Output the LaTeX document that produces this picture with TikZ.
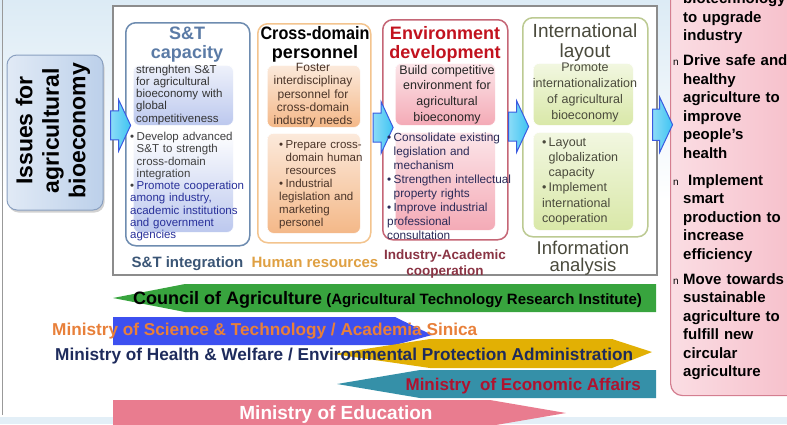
\documentclass[tikz,border=0pt]{standalone}
\usepackage{fontspec}
\setmainfont{Liberation Sans}
\usetikzlibrary{shapes.arrows,shadows,calc}

\definecolor{bgblue}{HTML}{DCEBF5}
\definecolor{framegrey}{HTML}{8C8C8C}
\definecolor{issueline}{HTML}{8AA0C0}
\definecolor{issuefill}{HTML}{BCD0EA}
\definecolor{arrowblue}{HTML}{3A5BE0}
\definecolor{arrowcyan}{HTML}{3EC4F2}
\definecolor{stline}{HTML}{6E8CB0}
\definecolor{sttext}{HTML}{5B7BA6}
\definecolor{stfill}{HTML}{BCC8EE}
\definecolor{stpurple}{HTML}{28309A}
\definecolor{stlabel}{HTML}{3B5676}
\definecolor{hrline}{HTML}{F3C48E}
\definecolor{hrfill}{HTML}{F4B888}
\definecolor{hrtext}{HTML}{4A3428}
\definecolor{hrlabel}{HTML}{DFA042}
\definecolor{envline}{HTML}{C56676}
\definecolor{envtext}{HTML}{C2121E}
\definecolor{envfill}{HTML}{F4AAB6}
\definecolor{envnavy}{HTML}{2A2A58}
\definecolor{ialabel}{HTML}{8A3444}
\definecolor{intline}{HTML}{BCCA92}
\definecolor{intfill}{HTML}{D9E8A8}
\definecolor{inttext}{HTML}{4A4A3C}
\definecolor{goalfill}{HTML}{F6BCC8}
\definecolor{goalline}{HTML}{D47E90}
\definecolor{coagreen}{HTML}{38A43E}
\definecolor{mostblue}{HTML}{3D50F0}
\definecolor{mostorange}{HTML}{E8803A}
\definecolor{mohwgold}{HTML}{E2B004}
\definecolor{mohwnavy}{HTML}{1E2B5C}
\definecolor{moeateal}{HTML}{3590A8}
\definecolor{moeared}{HTML}{B0122E}
\definecolor{moepink}{HTML}{E97C8F}

\newcommand{\fs}[2]{\fontsize{#1}{#2}\selectfont}
\newlength{\bulw}
\setlength{\bulw}{6.5pt}
% first bullet of a list, and the ones after it
\newcommand{\bfirst}{\hangindent=\bulw\hangafter=1\leavevmode\makebox[\bulw][l]{\textbullet}}
\newcommand{\bitem}{\par\bfirst}
\newcommand{\goalmark}{\leavevmode\llap{{\mdseries\fs{10}{10}n}\hspace{4.5pt}}}

\begin{document}
\begin{tikzpicture}[x=1pt,y=-1pt,
  colbox/.style={draw,rounded corners=10pt,line width=1.5pt,fill=white,anchor=north west,inner sep=0pt},
  padbox/.style={rounded corners=6pt,anchor=north west,inner sep=0pt,draw=white,line width=0.6pt},
  ttl/.style={font=\bfseries\fs{18}{19},align=center,text width=130pt,inner sep=0pt,anchor=base},
  lnote/.style={align=left,inner sep=0pt,anchor=base west,text width=#1},
  cnote/.style={align=center,inner sep=0pt,anchor=base,text width=#1},
  flowarrow/.style={single arrow,draw=arrowblue,line width=1pt,left color=arrowcyan!60,right color=arrowcyan,
    minimum height=20pt,minimum width=50pt,single arrow head extend=11pt,single arrow tip angle=130,
    inner xsep=0pt,inner ysep=14pt},
  ribbontxt/.style={font=\bfseries\fs{17.2}{18},inner sep=0pt,anchor=base west}]
\clip (0,0) rectangle (787,424);

% backdrop
\fill[top color=bgblue,bottom color=white] (0,0) rectangle (787,200);
\fill[bgblue!80] (0,417) rectangle (787,424);
\draw[black!40,line width=0.8pt] (2,0) -- (2,415);

% frame round the four columns
\node[draw=framegrey,line width=1.8pt,fill=white,anchor=north west,minimum width=544pt,minimum height=269pt,inner sep=0pt] (frame) at (112,5) {};

% issues
\node[draw=issueline,line width=1pt,rounded corners=10pt,left color=issuefill!45,right color=issuefill,
  general shadow={fill=black!18,shadow xshift=1.5pt,shadow yshift=-2.5pt},
  minimum width=96pt,minimum height=155pt,inner sep=0pt] (issues) at (55,132.5) {};
\node[rotate=90,font=\bfseries\fs{23}{26.5},align=center,inner sep=0pt] (issuestxt) at ($(issues.center)+(-2,-2)$) {Issues for\\agricultural\\bioeconomy};

% goals
\node[draw=goalline,line width=1.2pt,rounded corners=12pt,left color=goalfill!50,right color=goalfill,
  anchor=north west,minimum width=140pt,minimum height=425pt,inner sep=0pt] (goals) at (670,-30) {};
\node[lnote=112pt,font=\bfseries\fs{15}{18.5}] (goalstxt) at (683,3.5) {biotechnology\\to upgrade\\industry\\[6.5pt]%
\goalmark Drive safe and\\healthy\\agriculture to\\improve\\people’s\\health\\[8.5pt]%
\goalmark\ Implement\\smart\\production to\\increase\\efficiency\\[6.5pt]%
\goalmark Move towards\\sustainable\\agriculture to\\fulfill new\\circular\\agriculture};

% the four columns
\node[colbox,draw=stline,minimum width=124pt,minimum height=223pt] (stcap) at (125,22) {};
\node[colbox,draw=hrline,minimum width=113pt,minimum height=219pt] (cross) at (257,23) {};
\node[colbox,draw=envline,minimum width=125pt,minimum height=220pt] (envdev) at (382,19) {};
\node[colbox,draw=intline,minimum width=125pt,minimum height=219pt] (intl) at (522,17) {};

\node[padbox,top color=stfill!25,bottom color=stfill,minimum width=100pt,minimum height=60pt] (stgoal) at (133,65) {};
\node[padbox,top color=white,bottom color=stfill,minimum width=100pt,minimum height=102pt] (stact) at (133,130) {};
\node[padbox,top color=hrfill!30,bottom color=hrfill,minimum width=93pt,minimum height=62pt] (crossgoal) at (267,65) {};
\node[padbox,top color=hrfill!30,bottom color=hrfill,minimum width=93pt,minimum height=100pt] (crossact) at (267,133) {};
\node[padbox,top color=envfill!30,bottom color=envfill,minimum width=100pt,minimum height=62pt] (envgoal) at (395,63) {};
\node[padbox,top color=envfill!30,bottom color=envfill,minimum width=100pt,minimum height=98pt] (envact) at (395,132) {};
\node[padbox,top color=intfill!35,bottom color=intfill,minimum width=100pt,minimum height=62pt] (intgoal) at (533,63) {};
\node[padbox,top color=intfill!35,bottom color=intfill,minimum width=100pt,minimum height=98pt] (intact) at (533,132) {};

% block arrows between the stages
\node[flowarrow] (flow1) at ($(issues.east)!0.5!(stcap.west)+(3,-8)$) {};
\node[flowarrow] (flow2) at ($(cross.east)!0.5!(envdev.west)+(3,-4)$) {};
\node[flowarrow] (flow3) at ($(envdev.east)!0.5!(intl.west)+(0,-2)$) {};
\node[flowarrow,minimum width=55pt] (flow4) at ($(frame.east)!0.5!(goals.west)+(-5,-37)$) {};

\node[ttl,text=sttext] (sttitle) at (187,39.5) {S\&T\\capacity};
\node[ttl] (crosstitle) at (315,39.5) {\scalebox{0.9}[1]{Cross-domain}\\personnel};
\node[ttl,text=envtext] (envtitle) at (445,39.5) {Environment\\development};
\node[ttl,font=\fs{19}{19.5},text=inttext] (inttitle) at (585,37.5) {International\\layout};

\node[lnote=100pt,font=\fs{11.5}{12.3},text=black!80] (stgoaltxt) at (136,73) {strenghten S\&T\\for agricultural\\bioeconomy with\\global\\competitiveness};
\node[lnote=120pt,font=\fs{11.5}{12.25},text=black!75] (stacttxt) at (130,140.5) {\bfirst Develop advanced\newline S\&T to strength\newline cross-domain\newline integration%
\bitem {\color{stpurple}Promote cooperation\newline among industry,\newline academic institutions\newline and government\newline agencies}};
\node[cnote=95pt,font=\fs{12}{13.3},text=hrtext] (crossgoaltxt) at (313,71.5) {Foster\\interdisciplinay\\personnel for\\cross-domain\\industry needs};
\node[lnote=85pt,font=\fs{11.5}{13},text=hrtext] (crossacttxt) at (279,148.5) {\bfirst Prepare cross-\newline domain human\newline resources%
\bitem Industrial\newline legislation and\newline marketing\newline personel};
\node[cnote=100pt,font=\fs{12.5}{15.7},text=black!85] (envgoaltxt) at (447,74) {Build competitive\\environment for\\agricultural\\bioeconomy};
\node[lnote=125pt,font=\fs{11.8}{14.1},text=envnavy] (envacttxt) at (387,141) {\bfirst Consolidate existing\newline legislation and\newline mechanism%
\bitem Strengthen intellectual\newline property rights\bitem Improve industrial\newline professional\newline consultation};
\node[cnote=110pt,font=\fs{12.5}{16},text=inttext] (intgoaltxt) at (585,71.5) {Promote\\internationalization\\of agricultural\\bioeconomy};
\node[lnote=95pt,font=\fs{12.5}{15.3},text=inttext] (intacttxt) at (542,146) {\bfirst Layout\newline globalization\newline capacity\bitem Implement\newline international\newline cooperation};

\node[font=\bfseries\fs{15}{16},text=stlabel,inner sep=0pt,anchor=base] (stint) at (187.5,267) {S\&T integration};
\node[font=\bfseries\fs{15}{16},text=hrlabel,inner sep=0pt,anchor=base] (hres) at (315,267) {Human resources};
\node[cnote=130pt,font=\bfseries\fs{13.5}{16},text=ialabel] (iacoop) at (445,259) {Industry-Academic\\cooperation};
\node[cnote=130pt,font=\fs{18.5}{16.5},text=inttext] (infoan) at (583,254.5) {Information\\analysis};

% ministries
\fill[coagreen] (113,298) -- (185,284) -- (656,284) -- (656,312) -- (185,312) -- cycle;
\fill[mostblue] (113,317) -- (395,317) -- (432,335) -- (395,345) -- (113,345) -- cycle;
\fill[mohwgold] (333,354) -- (430,339) -- (612,339) -- (652,352) -- (612,368) -- (430,368) -- cycle;
\fill[moeateal] (337,384) -- (420,370) -- (656,370) -- (656,398) -- (420,398) -- cycle;
\fill[moepink] (113,400) -- (490,400) -- (566,413) -- (490,426) -- (113,426) -- cycle;

\node[ribbontxt,font=\bfseries\fs{15}{16},text=black] (coa) at (133,304.5) {{\fs{18}{18}Council of Agriculture} (Agricultural Technology Research Institute)};
\node[ribbontxt,text=mostorange] (most) at (52,335.5) {Ministry of Science \& Technology / Academia Sinica};
\node[ribbontxt,text=mohwnavy] (mohw) at (55,360.5) {Ministry of Health \& Welfare / Environmental Protection Administration};
\node[ribbontxt,font=\bfseries\fs{17}{17},text=moeared,anchor=base east] (moea) at (641,390) {Ministry\ \ of Economic Affairs};
\node[ribbontxt,font=\bfseries\fs{19}{19},text=white,anchor=base] (moe) at (336,419.5) {Ministry of Education};
\end{tikzpicture}
\end{document}
